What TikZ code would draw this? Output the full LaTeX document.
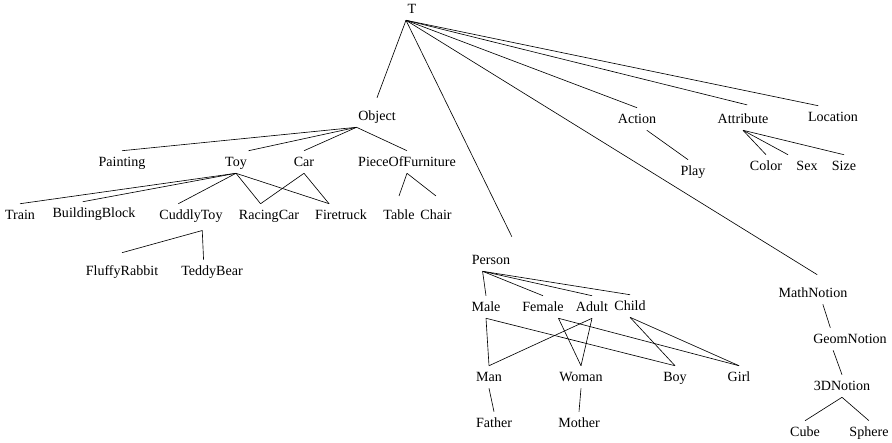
\documentclass[tikz,border=0pt]{standalone}
\usepackage{fontspec}
\setmainfont{Liberation Serif}
\usetikzlibrary{arrows.meta}

\begin{document}
\begin{tikzpicture}[x=0.025cm, y=-0.025cm, line width=0.45pt,
    every node/.style={inner xsep=1pt, inner ysep=0pt, text height=11.1pt, text depth=4.5pt}]
            \useasboundingbox (0,0) rectangle (892,442);

            % top level
            \node (T) at (412,9) {T};
            \node (obj) at (377,116) {Object};
            \node (person) at (491,260) {Person};
            \node (action) at (637,119) {Action};
            \node (attr) at (743,119) {Attribute};
            \node (loc) at (833,117) {Location};
            \node (math) at (813,293) {MathNotion};

            % objects
            \node (paint) at (122,162) {Painting};
            \node (toy) at (236,162) {Toy};
            \node (car) at (304,162) {Car};
            \node (pof) at (407,162) {PieceOfFurniture};
            \node (train) at (20,215) {Train};
            \node (block) at (94,213) {BuildingBlock};
            \node (cuddly) at (191,215) {CuddlyToy};
            \node (racing) at (269,215) {RacingCar};
            \node (fire) at (341,215) {Firetruck};
            \node (table) at (399,215) {Table};
            \node (chair) at (436,215) {Chair};
            \node (rabbit) at (122,271) {FluffyRabbit};
            \node (teddy) at (212,271) {TeddyBear};

            % persons
            \node (male) at (486,307) {Male};
            \node (female) at (543,307) {Female};
            \node (adult) at (592,307) {Adult};
            \node (child) at (630,306) {Child};
            \node (man) at (489,377) {Man};
            \node (woman) at (581,377) {Woman};
            \node (boy) at (675,377) {Boy};
            \node (girl) at (739,377) {Girl};
            \node (father) at (494,423) {Father};
            \node (mother) at (579,423) {Mother};

            % actions, attributes, notions
            \node (play) at (693,171) {Play};
            \node (color) at (766,166) {Color};
            \node (sex) at (807,166) {Sex};
            \node (size) at (844,166) {Size};
            \node (geom) at (850,339) {GeomNotion};
            \node (threed) at (842,386) {3DNotion};
            \node (cube) at (805,432) {Cube};
            \node (sphere) at (869,432) {Sphere};

            \draw (T.south west) -- ([yshift=5pt]obj.north);
            \draw (T.south west) -- ([yshift=8.5pt]person.north east);
            \draw (T.south west) -- (action.north);
            \draw (T.south west) -- ([xshift=3pt,yshift=2pt]attr.north);
            \draw (T.south west) -- ([xshift=-10.5pt]loc.north);
            \draw (T.south west) -- ([xshift=3pt,yshift=5pt]math.north);

            \draw (obj.south west) -- (paint.north);
            \draw (obj.south west) -- (toy.north east);
            \draw (obj.south west) -- (car.north);
            \draw (obj.south west) -- (pof.north);

            \draw (toy.south) -- (train.north);
            \draw (toy.south) -- ([xshift=-8pt]block.north);
            \draw (toy.south) -- ([xshift=-9pt]cuddly.north);
            \draw (toy.south) -- ([xshift=-6pt]racing.north);
            \draw (toy.south) -- ([xshift=-8.5pt]fire.north);
            \draw (car.south) -- ([xshift=-6pt]racing.north);
            \draw (car.south) -- ([xshift=-8.5pt]fire.north);
            \draw (pof.south) -- ([yshift=5.5pt]table.north);
            \draw (pof.south) -- ([yshift=5.5pt]chair.north);
            \draw ([xshift=8pt,yshift=-3pt]cuddly.south) -- ([yshift=5pt]rabbit.north);
            \draw ([xshift=8pt,yshift=-3pt]cuddly.south) -- ([xshift=-6pt]teddy.north);

            \draw ([xshift=-6pt]person.south) -- (male.north);
            \draw ([xshift=-6pt]person.south) -- (female.north);
            \draw ([xshift=-6pt]person.south) -- (adult.north);
            \draw ([xshift=-6pt]person.south) -- (child.north);
            \draw (male.south) -- (man.north);
            \draw (male.south) -- (boy.north);
            \draw ([xshift=11pt]female.south) -- (woman.north);
            \draw ([xshift=11pt]female.south) -- (girl.north);
            \draw (adult.south) -- (man.north);
            \draw (adult.south) -- (woman.north);
            \draw (child.south) -- (boy.north);
            \draw (child.south) -- (girl.north);
            \draw (man.south) -- (father.north);
            \draw (woman.south) -- (mother.north);

            \draw ([xshift=7pt]action.south) -- ([xshift=-3.5pt]play.north);
            \draw (attr.south) -- (color.north);
            \draw (attr.south) -- ([xshift=-13.5pt]sex.north);
            \draw (attr.south) -- (size.north);

            \draw ([xshift=7pt]math.south) -- ([xshift=-14pt]geom.north);
            \draw ([xshift=-12pt]geom.south) -- (threed.north);
            \draw (threed.south) -- (cube.north);
            \draw (threed.south) -- (sphere.north);
        \end{tikzpicture}
\end{document}
